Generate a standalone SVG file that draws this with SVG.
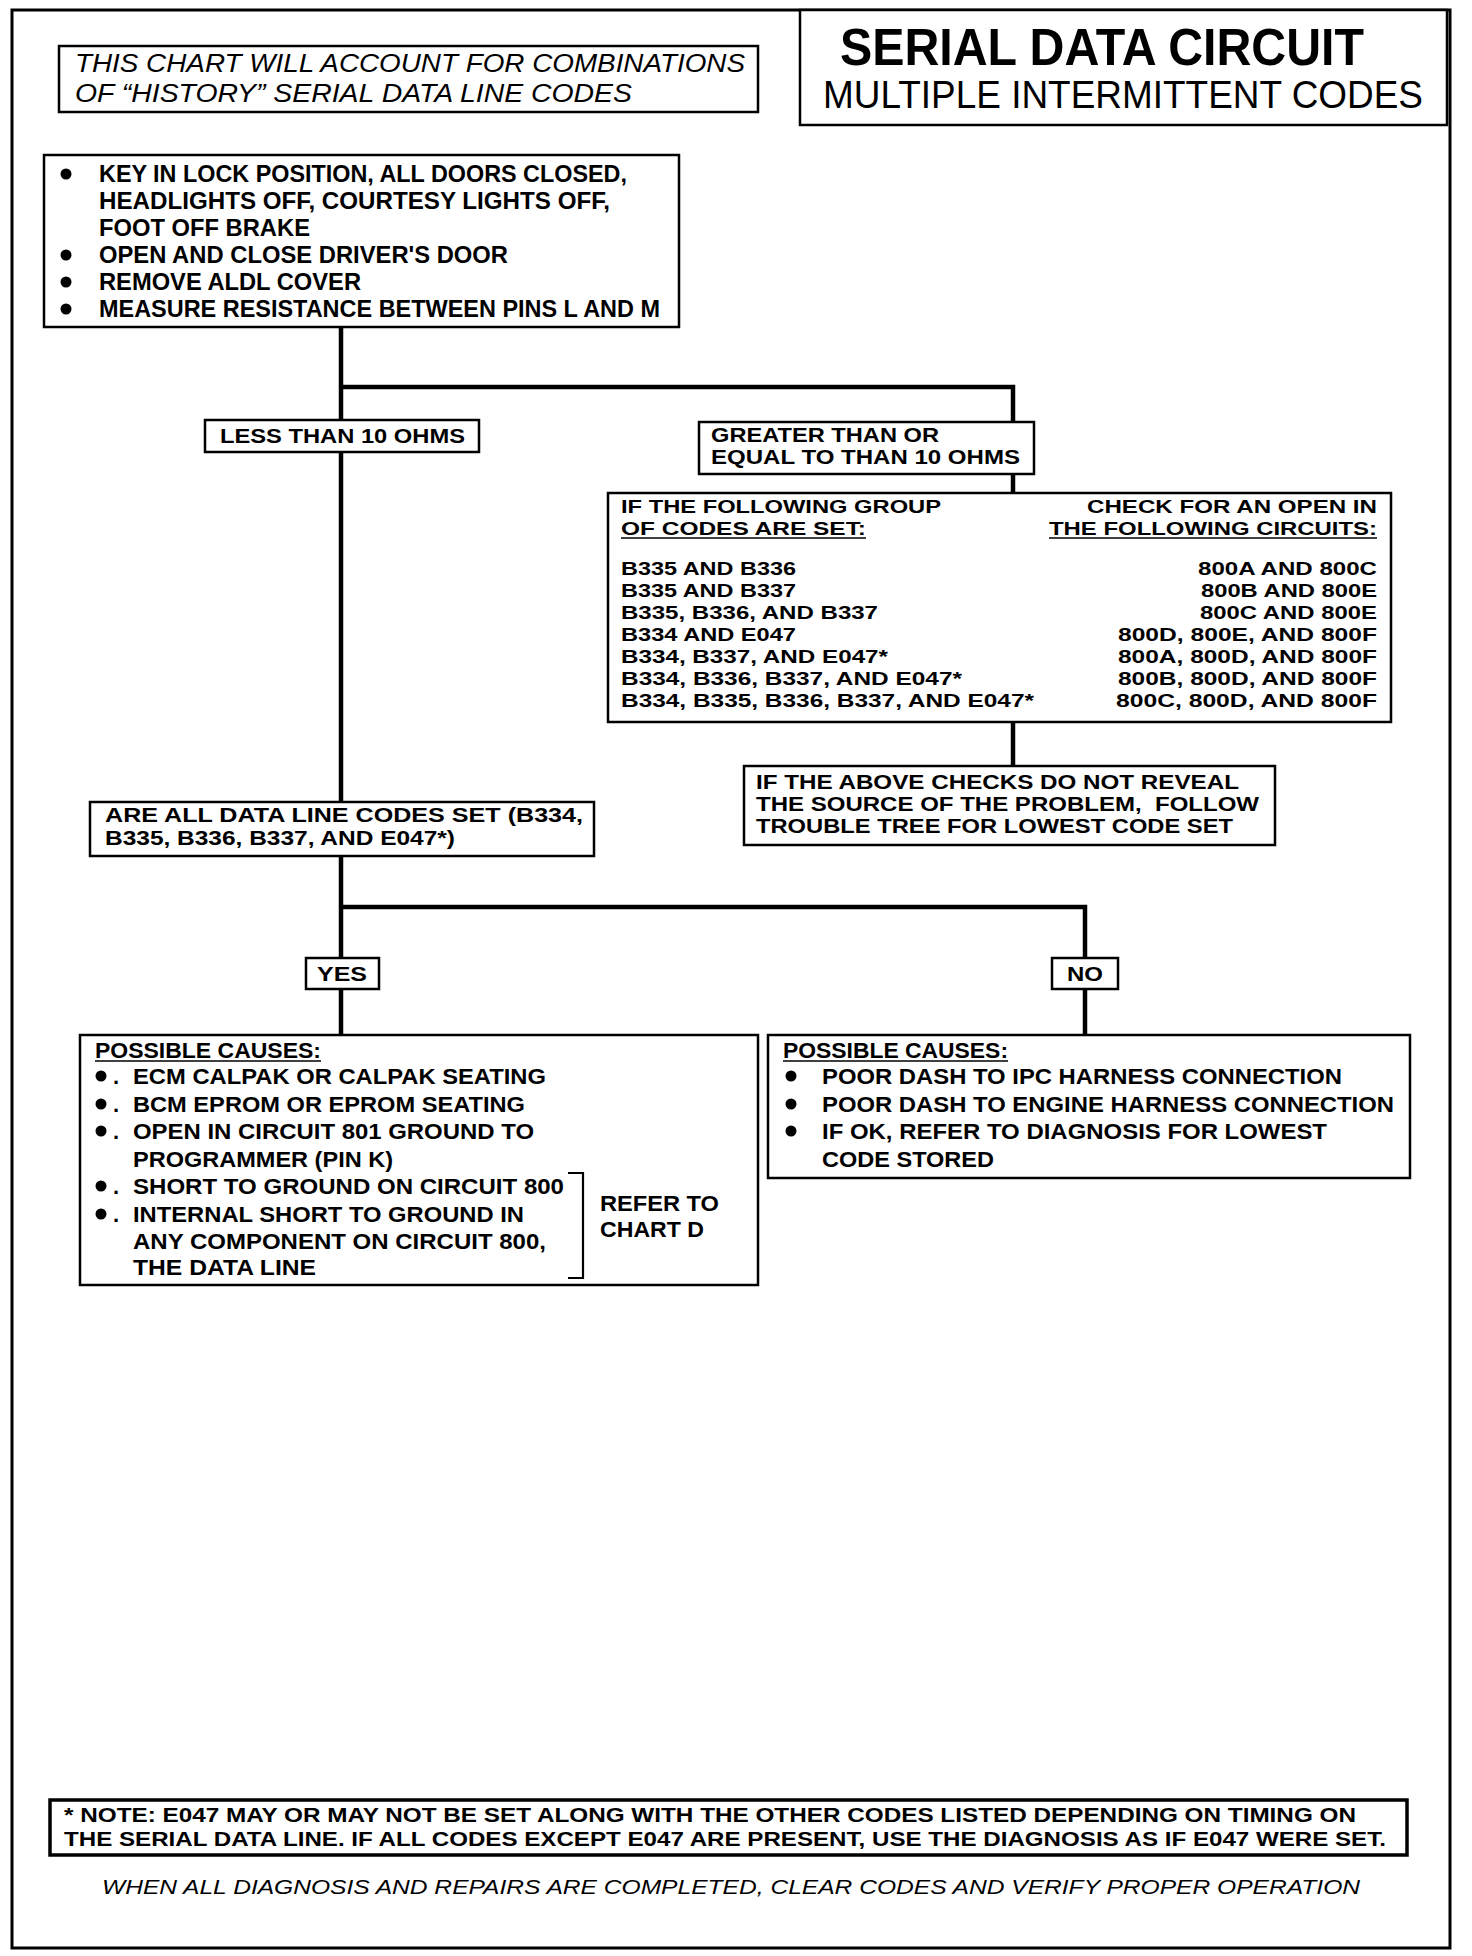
<svg xmlns="http://www.w3.org/2000/svg" width="1472" height="1956" viewBox="0 0 1472 1956">
<style>
text{font-family:"Liberation Sans",Arial,Helvetica,sans-serif;fill:#000}
.b{font-weight:bold}
.it{font-style:italic}
.box{fill:#fff;stroke:#000;stroke-width:2.5}
.con{fill:none;stroke:#000;stroke-width:4.5}
.ul{stroke:#000;stroke-width:1.6}
.t23{font-size:23px;font-weight:bold}
.t21{font-size:21px;font-weight:bold}
.t19{font-size:19px;font-weight:bold}
.t195{font-size:19.5px;font-weight:bold}
.t22{font-size:22px;font-weight:bold}
</style>
<rect x="0" y="0" width="1472" height="1956" fill="#fff"/>
<rect id="frame" x="12" y="10" width="1438" height="1938" fill="none" stroke="#000" stroke-width="3"/>

<g id="connectors">
<path class="con" d="M341,327 V802 M341,387 H1013 V422 M1013,474 V493 M1013,722 V766 M341,856 V1035 M341,907 H1085 V1035"/>
</g>

<g id="title">
<rect class="box" x="800" y="10" width="647" height="115"/>
<text x="840" y="65" font-size="52" class="b" textLength="524" lengthAdjust="spacingAndGlyphs">SERIAL DATA CIRCUIT</text>
<text x="823" y="108" font-size="38" textLength="600" lengthAdjust="spacingAndGlyphs">MULTIPLE INTERMITTENT CODES</text>
</g>

<g id="intro">
<rect class="box" x="59" y="46" width="699" height="66"/>
<text x="75" y="72" font-size="26" class="it" textLength="670" lengthAdjust="spacingAndGlyphs">THIS CHART WILL ACCOUNT FOR COMBINATIONS</text>
<text x="75" y="102" font-size="26" class="it" textLength="557" lengthAdjust="spacingAndGlyphs">OF “HISTORY” SERIAL DATA LINE CODES</text>
</g>

<g id="step1">
<rect class="box" x="44" y="155" width="635" height="172"/>
<circle cx="66" cy="174" r="5.5"/>
<circle cx="66" cy="255" r="5.5"/>
<circle cx="66" cy="282" r="5.5"/>
<circle cx="66" cy="309" r="5.5"/>
<text class="t23" x="99" y="182" textLength="528" lengthAdjust="spacingAndGlyphs">KEY IN LOCK POSITION, ALL DOORS CLOSED,</text>
<text class="t23" x="99" y="209" textLength="511" lengthAdjust="spacingAndGlyphs">HEADLIGHTS OFF, COURTESY LIGHTS OFF,</text>
<text class="t23" x="99" y="236" textLength="211" lengthAdjust="spacingAndGlyphs">FOOT OFF BRAKE</text>
<text class="t23" x="99" y="263" textLength="409" lengthAdjust="spacingAndGlyphs">OPEN AND CLOSE DRIVER'S DOOR</text>
<text class="t23" x="99" y="290" textLength="262" lengthAdjust="spacingAndGlyphs">REMOVE ALDL COVER</text>
<text class="t23" x="99" y="317" textLength="561" lengthAdjust="spacingAndGlyphs">MEASURE RESISTANCE BETWEEN PINS L AND M</text>
</g>

<g id="less">
<rect class="box" x="205" y="420" width="274" height="32"/>
<text class="t21" x="220" y="443" textLength="245" lengthAdjust="spacingAndGlyphs">LESS THAN 10 OHMS</text>
</g>

<g id="greater">
<rect class="box" x="699" y="422" width="335" height="52"/>
<text class="t21" x="711" y="442" textLength="228" lengthAdjust="spacingAndGlyphs">GREATER THAN OR</text>
<text class="t21" x="711" y="464" textLength="309" lengthAdjust="spacingAndGlyphs">EQUAL TO THAN 10 OHMS</text>
</g>

<g id="table">
<rect class="box" x="608" y="493" width="783" height="229"/>
<text class="t19" x="621" y="513" textLength="320" lengthAdjust="spacingAndGlyphs">IF THE FOLLOWING GROUP</text>
<text class="t19" x="621" y="535" textLength="245" lengthAdjust="spacingAndGlyphs">OF CODES ARE SET:</text>
<line class="ul" x1="621" y1="538" x2="866" y2="538"/>
<text class="t19" x="1377" y="513" text-anchor="end" textLength="290" lengthAdjust="spacingAndGlyphs">CHECK FOR AN OPEN IN</text>
<text class="t19" x="1377" y="535" text-anchor="end" textLength="328" lengthAdjust="spacingAndGlyphs">THE FOLLOWING CIRCUITS:</text>
<line class="ul" x1="1049" y1="538" x2="1377" y2="538"/>
<text class="t19" x="621" y="575" textLength="175" lengthAdjust="spacingAndGlyphs">B335 AND B336</text>
<text class="t19" x="621" y="597" textLength="175" lengthAdjust="spacingAndGlyphs">B335 AND B337</text>
<text class="t19" x="621" y="619" textLength="257" lengthAdjust="spacingAndGlyphs">B335, B336, AND B337</text>
<text class="t19" x="621" y="641" textLength="175" lengthAdjust="spacingAndGlyphs">B334 AND E047</text>
<text class="t19" x="621" y="663" textLength="267" lengthAdjust="spacingAndGlyphs">B334, B337, AND E047*</text>
<text class="t19" x="621" y="685" textLength="341" lengthAdjust="spacingAndGlyphs">B334, B336, B337, AND E047*</text>
<text class="t19" x="621" y="707" textLength="413" lengthAdjust="spacingAndGlyphs">B334, B335, B336, B337, AND E047*</text>
<text class="t19" x="1377" y="575" text-anchor="end" textLength="179" lengthAdjust="spacingAndGlyphs">800A AND 800C</text>
<text class="t19" x="1377" y="597" text-anchor="end" textLength="176" lengthAdjust="spacingAndGlyphs">800B AND 800E</text>
<text class="t19" x="1377" y="619" text-anchor="end" textLength="177" lengthAdjust="spacingAndGlyphs">800C AND 800E</text>
<text class="t19" x="1377" y="641" text-anchor="end" textLength="259" lengthAdjust="spacingAndGlyphs">800D, 800E, AND 800F</text>
<text class="t19" x="1377" y="663" text-anchor="end" textLength="259" lengthAdjust="spacingAndGlyphs">800A, 800D, AND 800F</text>
<text class="t19" x="1377" y="685" text-anchor="end" textLength="259" lengthAdjust="spacingAndGlyphs">800B, 800D, AND 800F</text>
<text class="t19" x="1377" y="707" text-anchor="end" textLength="261" lengthAdjust="spacingAndGlyphs">800C, 800D, AND 800F</text>
</g>

<g id="above">
<rect class="box" x="744" y="766" width="531" height="79"/>
<text class="t195" x="756" y="789" textLength="483" lengthAdjust="spacingAndGlyphs">IF THE ABOVE CHECKS DO NOT REVEAL</text>
<text class="t195" x="756" y="811" textLength="503" lengthAdjust="spacingAndGlyphs" xml:space="preserve">THE SOURCE OF THE PROBLEM,  FOLLOW</text>
<text class="t195" x="756" y="833" textLength="477" lengthAdjust="spacingAndGlyphs">TROUBLE TREE FOR LOWEST CODE SET</text>
</g>

<g id="question">
<rect class="box" x="90" y="802" width="504" height="54"/>
<text class="t21" x="105" y="822" textLength="478" lengthAdjust="spacingAndGlyphs">ARE ALL DATA LINE CODES SET (B334,</text>
<text class="t21" x="105" y="845" textLength="350" lengthAdjust="spacingAndGlyphs">B335, B336, B337, AND E047*)</text>
</g>

<g id="yes">
<rect class="box" x="306" y="958" width="73" height="31"/>
<text class="t21" x="317" y="981" textLength="50" lengthAdjust="spacingAndGlyphs">YES</text>
</g>

<g id="no">
<rect class="box" x="1052" y="958" width="66" height="31"/>
<text class="t21" x="1067" y="981" textLength="36" lengthAdjust="spacingAndGlyphs">NO</text>
</g>

<g id="causes-yes">
<rect class="box" x="80" y="1035" width="678" height="250"/>
<text class="t22" x="95" y="1058" textLength="226" lengthAdjust="spacingAndGlyphs">POSSIBLE CAUSES:</text>
<line class="ul" x1="95" y1="1061" x2="321" y2="1061"/>
<circle cx="101" cy="1076" r="5.5"/>
<circle cx="101" cy="1104" r="5.5"/>
<circle cx="101" cy="1131" r="5.5"/>
<circle cx="101" cy="1186" r="5.5"/>
<circle cx="101" cy="1214" r="5.5"/>
<text class="t22" x="113" y="1084">.</text>
<text class="t22" x="113" y="1112">.</text>
<text class="t22" x="113" y="1139">.</text>
<text class="t22" x="113" y="1194">.</text>
<text class="t22" x="113" y="1222">.</text>
<text class="t22" x="133" y="1084" textLength="413" lengthAdjust="spacingAndGlyphs">ECM CALPAK OR CALPAK SEATING</text>
<text class="t22" x="133" y="1112" textLength="392" lengthAdjust="spacingAndGlyphs">BCM EPROM OR EPROM SEATING</text>
<text class="t22" x="133" y="1139" textLength="401" lengthAdjust="spacingAndGlyphs">OPEN IN CIRCUIT 801 GROUND TO</text>
<text class="t22" x="133" y="1167" textLength="260" lengthAdjust="spacingAndGlyphs">PROGRAMMER (PIN K)</text>
<text class="t22" x="133" y="1194" textLength="431" lengthAdjust="spacingAndGlyphs">SHORT TO GROUND ON CIRCUIT 800</text>
<text class="t22" x="133" y="1222" textLength="391" lengthAdjust="spacingAndGlyphs">INTERNAL SHORT TO GROUND IN</text>
<text class="t22" x="133" y="1249" textLength="413" lengthAdjust="spacingAndGlyphs">ANY COMPONENT ON CIRCUIT 800,</text>
<text class="t22" x="133" y="1275" textLength="183" lengthAdjust="spacingAndGlyphs">THE DATA LINE</text>
<path d="M568,1173 H583 V1278 H568" fill="none" stroke="#000" stroke-width="2.2"/>
<text class="t22" x="600" y="1211" textLength="119" lengthAdjust="spacingAndGlyphs">REFER TO</text>
<text class="t22" x="600" y="1237" textLength="104" lengthAdjust="spacingAndGlyphs">CHART D</text>
</g>

<g id="causes-no">
<rect class="box" x="768" y="1035" width="642" height="143"/>
<text class="t22" x="783" y="1058" textLength="225" lengthAdjust="spacingAndGlyphs">POSSIBLE CAUSES:</text>
<line class="ul" x1="783" y1="1061" x2="1008" y2="1061"/>
<circle cx="791" cy="1076" r="5.5"/>
<circle cx="791" cy="1104" r="5.5"/>
<circle cx="791" cy="1131" r="5.5"/>
<text class="t22" x="822" y="1084" textLength="520" lengthAdjust="spacingAndGlyphs">POOR DASH TO IPC HARNESS CONNECTION</text>
<text class="t22" x="822" y="1112" textLength="572" lengthAdjust="spacingAndGlyphs">POOR DASH TO ENGINE HARNESS CONNECTION</text>
<text class="t22" x="822" y="1139" textLength="505" lengthAdjust="spacingAndGlyphs">IF OK, REFER TO DIAGNOSIS FOR LOWEST</text>
<text class="t22" x="822" y="1167" textLength="172" lengthAdjust="spacingAndGlyphs">CODE STORED</text>
</g>

<g id="note">
<rect x="50" y="1800" width="1357" height="55" fill="#fff" stroke="#000" stroke-width="3.5"/>
<text x="64" y="1822" font-size="20" class="b" textLength="1292" lengthAdjust="spacingAndGlyphs">* NOTE: E047 MAY OR MAY NOT BE SET ALONG WITH THE OTHER CODES LISTED DEPENDING ON TIMING ON</text>
<text x="64" y="1846" font-size="20" class="b" textLength="1322" lengthAdjust="spacingAndGlyphs">THE SERIAL DATA LINE. IF ALL CODES EXCEPT E047 ARE PRESENT, USE THE DIAGNOSIS AS IF E047 WERE SET.</text>
</g>

<g id="footer">
<text x="102" y="1894" font-size="20" class="it" textLength="1258" lengthAdjust="spacingAndGlyphs">WHEN ALL DIAGNOSIS AND REPAIRS ARE COMPLETED, CLEAR CODES AND VERIFY PROPER OPERATION</text>
</g>
</svg>
